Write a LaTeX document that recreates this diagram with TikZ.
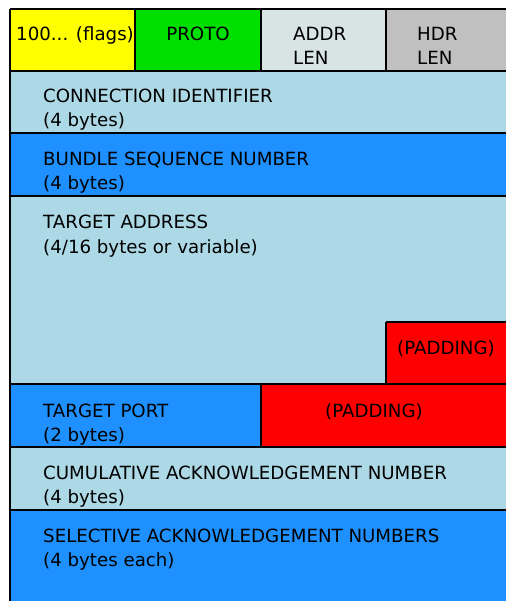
\documentclass[tikz,border=0pt]{standalone}
\usepackage{fontspec}
\setmainfont{DejaVu Sans}
\definecolor{flagyellow}{HTML}{FFFF00}
\definecolor{protogreen}{HTML}{00E000}
\definecolor{addrgray}{HTML}{D8E4E4}
\definecolor{hdrgray}{HTML}{C0C0C0}
\definecolor{paleblue}{HTML}{ADD8E6}
\definecolor{deepblue}{HTML}{1E90FF}
\definecolor{padred}{HTML}{FF0000}
\begin{document}
\begin{tikzpicture}[x=1pt,y=-1pt,
  field/.style={rectangle, inner sep=0pt, outer sep=0pt, anchor=north west},
  rule/.style={draw=black, line width=2pt},
  lbl/.style={inner sep=0pt, anchor=base west, font=\fontsize{18.2}{24}\selectfont, text=black}]
\useasboundingbox (0,0) rectangle (506,601);
\fill[white] (0,0) rectangle (506,601);

% header row (the last field runs on past the right edge)
\node[field, fill=flagyellow, minimum width=125pt, minimum height=62pt] (flags) at (10,9) {};
\node[field, fill=protogreen, minimum width=126pt, minimum height=62pt] (proto) at (135,9) {};
\node[field, fill=addrgray, minimum width=125pt, minimum height=62pt] (addr) at (261,9) {};
\node[field, fill=hdrgray, minimum width=120pt, minimum height=62pt] (hdr) at (386,9) {};

% rows, all open to the right
\node[field, fill=paleblue, minimum width=496pt, minimum height=62pt] (conn) at (10,71) {};
\node[field, fill=deepblue, minimum width=496pt, minimum height=63pt] (bseq) at (10,133) {};
\node[field, fill=paleblue, minimum width=496pt, minimum height=188pt] (taddr) at (10,196) {};
\node[field, fill=padred, minimum width=120pt, minimum height=62pt] (pad1) at (386,322) {};
\node[field, fill=deepblue, minimum width=251pt, minimum height=63pt] (tport) at (10,384) {};
\node[field, fill=padred, minimum width=245pt, minimum height=63pt] (pad2) at (261,384) {};
\node[field, fill=paleblue, minimum width=496pt, minimum height=63pt] (cack) at (10,447) {};
\node[field, fill=deepblue, minimum width=496pt, minimum height=91pt] (sack) at (10,510) {};

% outlines: left side, horizontal boundaries, vertical dividers
\draw[rule] (flags.north west) -- (sack.south west);
\draw[rule] (flags.north west) -- (hdr.north east);
\draw[rule] (conn.north west) -- (conn.north east);
\draw[rule] (bseq.north west) -- (bseq.north east);
\draw[rule] (taddr.north west) -- (taddr.north east);
\draw[rule] (pad1.north west) -- (pad1.north east);
\draw[rule] (pad1.north west) -- (pad1.south west);
\draw[rule] (tport.north west) -- (pad2.north east);
\draw[rule] (cack.north west) -- (cack.north east);
\draw[rule] (sack.north west) -- (sack.north east);
\draw[rule] (proto.north west) -- (proto.south west);
\draw[rule] (addr.north west) -- (addr.south west);
\draw[rule] (hdr.north west) -- (hdr.south west);
\draw[rule] (pad2.north west) -- (pad2.south west);

% labels
\node[lbl] (flagsT) at (16,41) {100... (flags)};
\node[lbl, anchor=base] (protoT) at (198,41) {PROTO};
\node[lbl] (addrT) at (293,41) {ADDR};
\node[lbl] (addrB) at ([yshift=-24pt]addrT.base west) {LEN};
\node[lbl] (hdrT) at (417,41) {HDR};
\node[lbl] (hdrB) at ([yshift=-24pt]hdrT.base west) {LEN};

\node[lbl] (connT) at (43,103) {CONNECTION IDENTIFIER};
\node[lbl] (connB) at ([yshift=-24pt]connT.base west) {(4 bytes)};
\node[lbl] (bseqT) at (43,166) {BUNDLE SEQUENCE NUMBER};
\node[lbl] (bseqB) at ([yshift=-24pt]bseqT.base west) {(4 bytes)};
\node[lbl] (taddrT) at (43,229) {TARGET ADDRESS};
\node[lbl] (taddrB) at ([yshift=-24pt]taddrT.base west) {(4/16 bytes or variable)};
\node[lbl] (pad1T) at (397,354) {(PADDING)};
\node[lbl] (tportT) at (43,417) {TARGET PORT};
\node[lbl] (tportB) at ([yshift=-24pt]tportT.base west) {(2 bytes)};
\node[lbl] (pad2T) at (325,417) {(PADDING)};
\node[lbl] (cackT) at (43,479) {CUMULATIVE ACKNOWLEDGEMENT NUMBER};
\node[lbl] (cackB) at ([yshift=-24pt]cackT.base west) {(4 bytes)};
\node[lbl] (sackT) at (43,542) {SELECTIVE ACKNOWLEDGEMENT NUMBERS};
\node[lbl] (sackB) at ([yshift=-24pt]sackT.base west) {(4 bytes each)};
\end{tikzpicture}
\end{document}
